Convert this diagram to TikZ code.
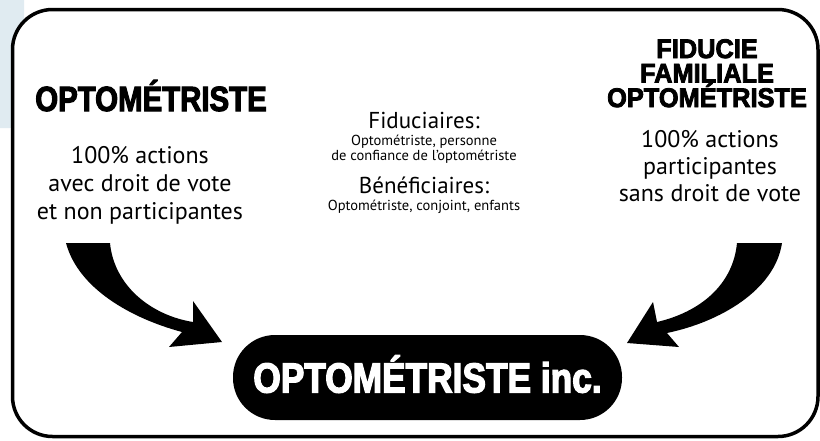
\documentclass[tikz,border=0pt]{standalone}
\usepackage{fontspec}
\setmainfont{PT Sans}
\newfontfamily\headfont{Liberation Sans Bold}[FakeStretch=0.84,FakeBold=3]
\newfontfamily\trustfont{Liberation Sans Bold}[FakeStretch=0.94,FakeBold=3]
\usepackage{tikz}
\usetikzlibrary{positioning}

\definecolor{paleblue}{HTML}{E0EBF1}

\tikzset{
  heading/.style={font=\headfont\fontsize{35}{35}\selectfont, inner sep=0pt, anchor=base},
  trusthead/.style={font=\trustfont\fontsize{27}{24.5}\selectfont, align=center, inner sep=0pt, anchor=north},
  sharetext/.style={font=\fontsize{24}{28}\selectfont, align=center, inner sep=0pt, anchor=north},
  roletitle/.style={font=\fontsize{23}{23}\selectfont, inner sep=0pt, anchor=base},
  rolenames/.style={font=\fontsize{14.5}{15.5}\selectfont, align=center, inner sep=0pt, anchor=north},
  company/.style={fill=black, text=white, rounded corners=42pt, minimum width=389pt, minimum height=85pt,
    text height=30pt, text depth=0pt, inner sep=0pt, font=\headfont\fontsize{42}{42}\selectfont},
  bigarrow/.style={fill=black},
}

\begin{document}
\begin{tikzpicture}[x=1pt,y=-1pt]
\useasboundingbox (0,0) rectangle (820,440);
\fill[paleblue, rounded corners=14pt] (-30,-30) rectangle (24,128);
\draw[line width=3.5pt, rounded corners=40pt, fill=white] (12.5,9.5) rectangle (818,436.5);

\node[heading] (optohead) at (151,111) {OPTOMÉTRISTE};
\node[sharetext] (optoshares) at (140,146) {100\% actions\\avec droit de vote\\et non participantes};

\node[trusthead] (trusthead) at (707,39) {FIDUCIE\\FAMILIALE\\OPTOMÉTRISTE};
\node[sharetext, font=\fontsize{24}{27}\selectfont] (trustshares) at (710,130) {100\% actions\\participantes\\sans droit de vote};

\node[roletitle] (fiduc) at (424,128) {Fiduciaires:};
\node[rolenames] (fiducnames) at (424,134.5) {Optométriste, personne\\de confiance de l’optométriste};
\node[roletitle] (benef) at (424,193) {Bénéficiaires:};
\node[rolenames] (benefnames) at (424,200) {Optométriste, conjoint, enfants};

\node[company] (optoinc) at (427.5,377.5) {OPTOMÉTRISTE inc.};

\fill[bigarrow] (66,243) -- (110,243) .. controls (114,285) and (150,315) .. (193,322)
  -- (193,301) -- (222,342) -- (169,347) -- (182,332)
  .. controls (130,318) and (78,288) .. (66,243) -- cycle;
\fill[bigarrow] (737,243) .. controls (733,285) and (700,312) .. (657,322)
  -- (653,302) -- (627,343) -- (679,347) -- (667,333)
  .. controls (720,322) and (775,290) .. (782,243) -- cycle;
\end{tikzpicture}
\end{document}
